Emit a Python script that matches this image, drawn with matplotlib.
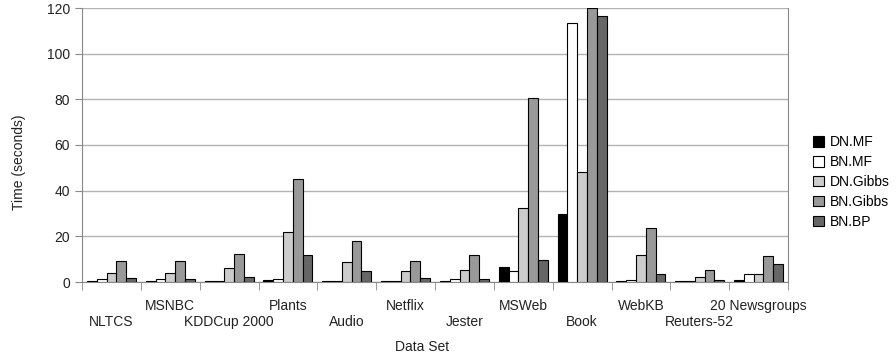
import matplotlib
matplotlib.use("Agg")
import matplotlib.pyplot as plt
import numpy as np

plt.rcParams['font.family'] = ['Liberation Sans', 'DejaVu Sans']

datasets = ['NLTCS', 'MSNBC', 'KDDCup 2000', 'Plants', 'Audio', 'Netflix',
            'Jester', 'MSWeb', 'Book', 'WebKB', 'Reuters-52', '20 Newsgroups']
series_names = ['DN.MF', 'BN.MF', 'DN.Gibbs', 'BN.Gibbs', 'BN.BP']
dn_mf = [0.6, 0.5, 0.3, 0.7, 0.3, 0.3, 0.6, 6.5, 30.0, 0.6, 0.6, 0.9]
bn_mf = [1.2, 1.3, 0.4, 1.2, 0.4, 0.4, 1.2, 4.6, 113.3, 0.9, 0.5, 3.6]
dn_gibbs = [3.8, 3.8, 6.3, 21.8, 8.7, 4.6, 5.2, 32.3, 48.3, 11.8, 2.2, 3.3]
bn_gibbs = [9.4, 9.0, 12.2, 45.0, 17.9, 9.0, 11.8, 80.5, 120.0, 23.6, 5.3, 11.2]
bn_bp = [1.8, 1.2, 2.0, 12.0, 4.8, 1.7, 1.5, 9.6, 116.7, 3.5, 0.9, 7.7]
colors = ['#000000', '#ffffff', '#cccccc', '#999999', '#666666']

series = [dn_mf, bn_mf, dn_gibbs, bn_gibbs, bn_bp]

fig = plt.figure(figsize=(8.96, 3.58), dpi=100)
ax = fig.add_axes([82 / 896, 1 - 282 / 358, 706 / 896, 274 / 358])

x = np.arange(len(datasets))
width = 0.167
for i, (name, vals, col) in enumerate(zip(series_names, series, colors)):
    ax.bar(x + (i - 2) * width, vals, width, color=col, edgecolor='black',
           linewidth=0.8, label=name, zorder=3)

ax.set_xlim(-0.5, len(datasets) - 0.5)
ax.set_ylim(0, 120)
ax.set_yticks(np.arange(0, 121, 20))
ax.yaxis.grid(True, color='#b3b3b3', linewidth=1, zorder=0)
for s in ax.spines.values():
    s.set_color('#888888')
ax.spines['top'].set_visible(False)

# category boundary ticks
ax.set_xticks(np.arange(-0.5, len(datasets), 1), minor=True)
ax.tick_params(axis='x', which='minor', length=6, color='#888888')
ax.set_xticks(x)
ax.set_xticklabels(datasets, fontsize=10, color='#222222')
ax.tick_params(axis='x', which='major', length=0)
for i, t in enumerate(ax.xaxis.get_major_ticks()):
    t.set_pad(24 if i % 2 == 0 else 12)
ax.tick_params(axis='y', length=5, color='#888888', labelsize=10,
               labelcolor='#222222', direction='out')

ax.set_xlabel('Data Set', fontsize=10, color='#222222', va='center')
ax.xaxis.set_label_coords(0.482, -0.237)
ax.set_ylabel('Time (seconds)', fontsize=10, color='#222222', va='center')
ax.yaxis.set_label_coords(-0.089, 0.438)

ax.legend(loc='center left', bbox_to_anchor=(1.018, 0.365), frameon=False,
          fontsize=10, handlelength=0.8, handleheight=0.8, handletextpad=0.4,
          labelspacing=0.42)

fig.savefig('out.png', dpi=100)
